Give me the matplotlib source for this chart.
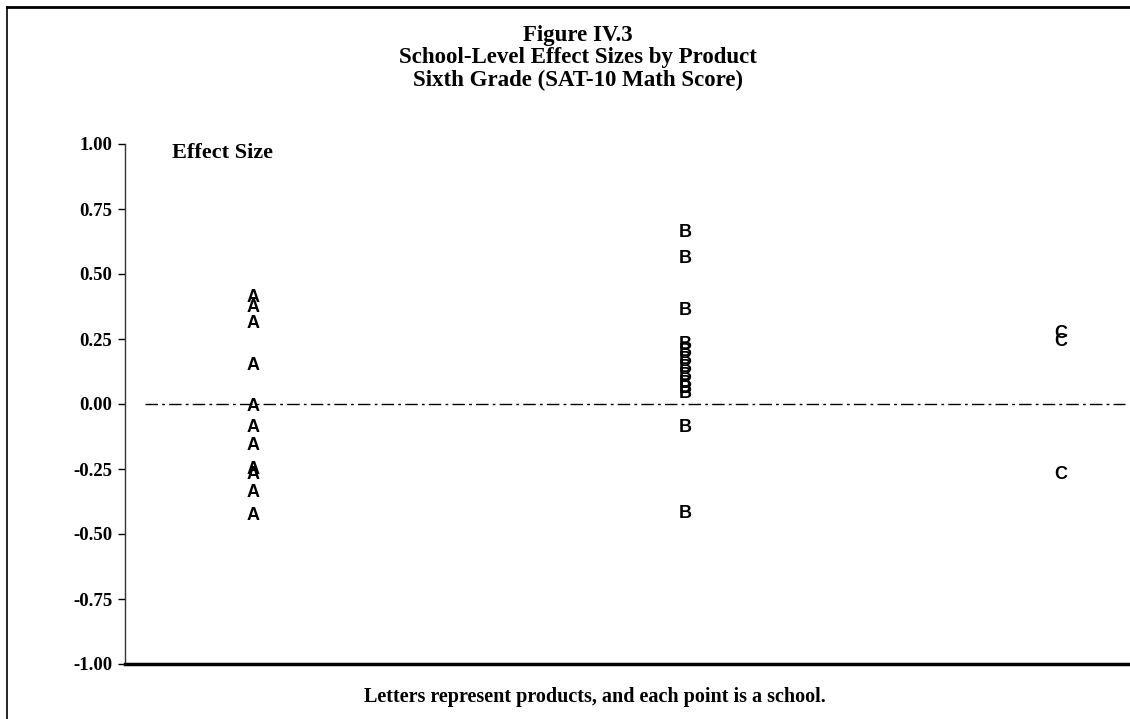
import matplotlib
matplotlib.use("Agg")
import matplotlib.pyplot as plt
from matplotlib.lines import Line2D

W, H = 1130, 719
fig = plt.figure(figsize=(W / 100, H / 100), dpi=100)

# ---- data ----
products = ["A", "B", "C"]
product_pos = [1.0, 2.0, 2.87]
effects_A = [0.41, 0.37, 0.31, 0.15, -0.01, -0.09, -0.16, -0.25, -0.27, -0.34, -0.43]
effects_B = [0.66, 0.56, 0.36, 0.23, 0.20, 0.17, 0.14, 0.11, 0.08, 0.06, 0.04, -0.09, -0.42]
effects_C = [0.27, 0.24, -0.27]
yticks = [1.00, 0.75, 0.50, 0.25, 0.00, -0.25, -0.50, -0.75, -1.00]
title_lines = ["Figure IV.3", "School-Level Effect Sizes by Product", "Sixth Grade (SAT-10 Math Score)"]

serif = "Liberation Serif"

ax = fig.add_axes([125 / W, (H - 664) / H, (W - 125) / W, (664 - 144) / H])
x0 = 1 - (253 - 125) / 432
ax.set_xlim(x0, x0 + (W - 125) / 432)
ax.set_ylim(-1.0, 1.0)

for name, pos, vals in zip(products, product_pos, [effects_A, effects_B, effects_C]):
    for v in vals:
        ax.text(pos, v, name, ha="center", va="center", fontsize=13,
                fontweight="bold", family="Liberation Sans", color="black")

ax.plot([x0 + 20 / 432, x0 + 1000 / 432], [0, 0], color="black", lw=1.0,
        linestyle=(0, (9, 3, 2, 3)))

ax.set_yticks(yticks)
ax.set_yticklabels([f"{t:.2f}" for t in yticks], family=serif, fontweight="bold", fontsize=13.5)
ax.set_xticks([])
ax.tick_params(axis="y", direction="out", length=5, width=1, pad=4)
for s in ["top", "right"]:
    ax.spines[s].set_visible(False)
ax.spines["left"].set_linewidth(1.0)
ax.spines["left"].set_color("#333333")
ax.spines["bottom"].set_linewidth(2.5)

# titles
for i, t in enumerate(title_lines):
    fig.text(578 / W, 1 - (36 + 22 * i) / H, t, ha="center", va="center",
             family=serif, fontweight="bold", fontsize=16.5)
fig.text(222 / W, 1 - 153 / H, "Effect Size", ha="center", va="center",
         family=serif, fontweight="bold", fontsize=16)
fig.text(595 / W, 1 - 697 / H, "Letters represent products, and each point is a school.",
         ha="center", va="center", family=serif, fontweight="bold", fontsize=14.5)

# outer frame (top and left)
fig.add_artist(Line2D([7 / W, 1], [1 - 7 / H, 1 - 7 / H], color="black", lw=2, transform=fig.transFigure))
fig.add_artist(Line2D([7 / W, 7 / W], [1 - 7 / H, 0], color="black", lw=1.2, transform=fig.transFigure))

fig.savefig("out.png", dpi=100)
